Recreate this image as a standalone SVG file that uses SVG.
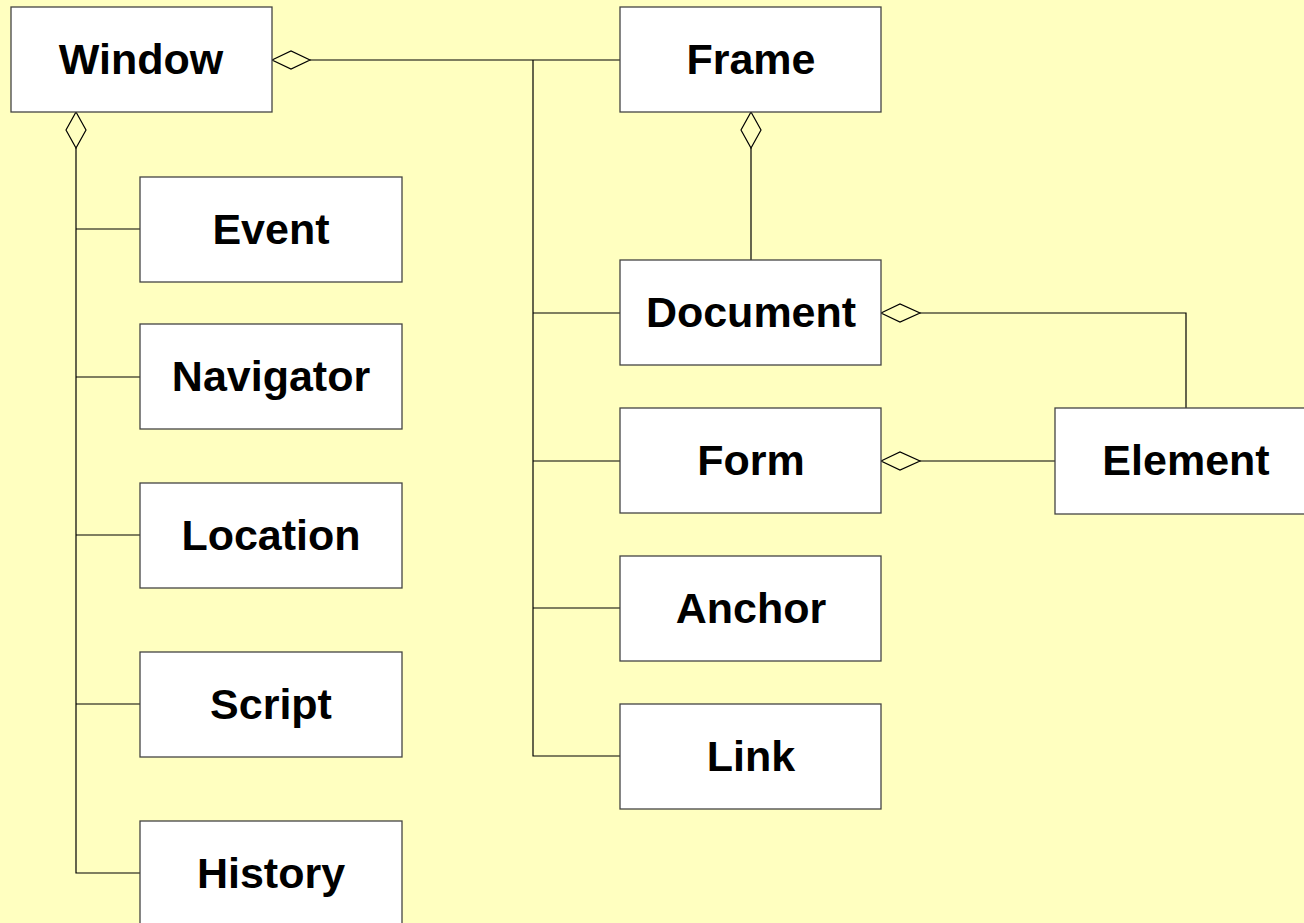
<svg xmlns="http://www.w3.org/2000/svg" width="1304" height="923" viewBox="0 0 1304 923">
<style>
.box{fill:#fff;stroke:#444;stroke-width:1.3}
.lbl{font-family:"Liberation Sans",Arial,sans-serif;font-weight:bold;font-size:43px;text-anchor:middle;fill:#000}
.ln{fill:none;stroke:#000;stroke-width:1.2}
.dia{fill:#FFFFC0;stroke:#000;stroke-width:1.2}
</style>
<rect width="1304" height="923" fill="#FFFFC0"/>
<g id="connectors">
<polyline class="ln" points="310,60 620,60"/>
<polyline class="ln" points="533,60 533,756 620,756"/>
<line class="ln" x1="533" y1="313" x2="620" y2="313"/>
<line class="ln" x1="533" y1="461" x2="620" y2="461"/>
<line class="ln" x1="533" y1="608" x2="620" y2="608"/>
<polyline class="ln" points="76,148 76,873 140,873"/>
<line class="ln" x1="76" y1="229" x2="140" y2="229"/>
<line class="ln" x1="76" y1="377" x2="140" y2="377"/>
<line class="ln" x1="76" y1="535" x2="140" y2="535"/>
<line class="ln" x1="76" y1="704" x2="140" y2="704"/>
<line class="ln" x1="751" y1="148" x2="751" y2="260"/>
<polyline class="ln" points="920,313 1186,313 1186,408"/>
<line class="ln" x1="920" y1="461" x2="1055" y2="461"/>
<polygon class="dia" points="272,60 291,51 310,60 291,69"/>
<polygon class="dia" points="76,112 86,130 76,148 66,130"/>
<polygon class="dia" points="751,112 761,130 751,148 741,130"/>
<polygon class="dia" points="881,313 900,304 920,313 900,322"/>
<polygon class="dia" points="881,461 900,452 920,461 900,470"/>
</g>
<g id="window"><rect class="box" x="11" y="7" width="261" height="105"/><text class="lbl" x="141" y="74">Window</text></g>
<g id="frame"><rect class="box" x="620" y="7" width="261" height="105"/><text class="lbl" x="751" y="74">Frame</text></g>
<g id="event"><rect class="box" x="140" y="177" width="262" height="105"/><text class="lbl" x="271" y="244">Event</text></g>
<g id="navigator"><rect class="box" x="140" y="324" width="262" height="105"/><text class="lbl" x="271" y="391">Navigator</text></g>
<g id="location"><rect class="box" x="140" y="483" width="262" height="105"/><text class="lbl" x="271" y="550">Location</text></g>
<g id="script"><rect class="box" x="140" y="652" width="262" height="105"/><text class="lbl" x="271" y="719">Script</text></g>
<g id="history"><rect class="box" x="140" y="821" width="262" height="105"/><text class="lbl" x="271" y="888">History</text></g>
<g id="document"><rect class="box" x="620" y="260" width="261" height="105"/><text class="lbl" x="751" y="327">Document</text></g>
<g id="form"><rect class="box" x="620" y="408" width="261" height="105"/><text class="lbl" x="751" y="475">Form</text></g>
<g id="anchor"><rect class="box" x="620" y="556" width="261" height="105"/><text class="lbl" x="751" y="623">Anchor</text></g>
<g id="link"><rect class="box" x="620" y="704" width="261" height="105"/><text class="lbl" x="751" y="771">Link</text></g>
<g id="element"><rect class="box" x="1055" y="408" width="262" height="106"/><text class="lbl" x="1186" y="475">Element</text></g>
</svg>
